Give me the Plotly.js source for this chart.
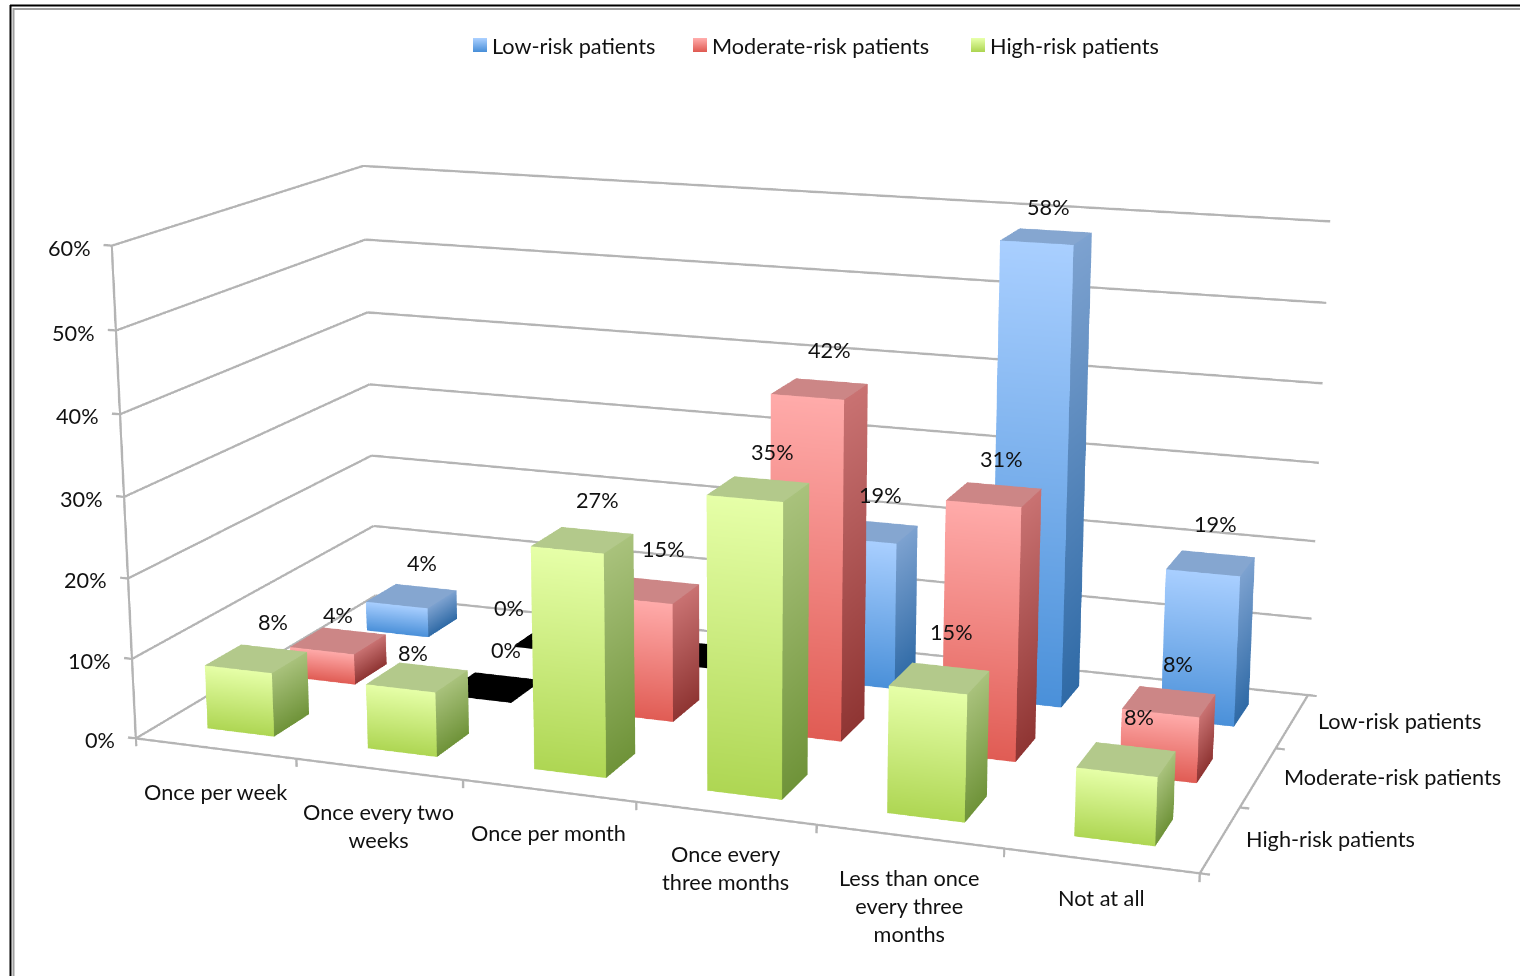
<!DOCTYPE html>
<html><head><meta charset="utf-8">
<script src="https://cdn.plot.ly/plotly-3.0.1.min.js"></script>
<style>html,body{margin:0;padding:0;background:#fff;overflow:hidden;width:1520px;height:976px}#c{position:absolute}</style>
</head><body><div id="c"></div>
<script>
const categories = ["Once per week","Once every two<br>weeks","Once per month","Once every<br>three months","Less than once<br>every three<br>months","Not at all"];
const seriesNames = ["High-risk patients","Moderate-risk patients","Low-risk patients"];
const highRisk = [8,8,27,35,15,8];
const moderateRisk = [4,0,15,42,31,8];
const lowRisk = [4,0,0,19,58,19];
const zTicks = [0,10,20,30,40,50,60];
const seriesValues = [highRisk,moderateRisk,lowRisk];
const palette = [
 ["#e6ffa8","#aed653","#a9c27c","#6f9339","#b3c98b"],
 ["#ffabaa","#e05c54","#c97272","#8f3533","#cc8686"],
 ["#a9cfff","#4a90d9","#7da2d0","#2f6aa6","#85a6d0"]
];
const barW=0.42, barD=0.42;
const xr=[-0.3,6.3], yr=[-0.3,3.3], zr=[-2,62];
const Fz=2.7, px=734, py=479;
const PW=Math.round(1520*Fz), PH=Math.round(976*Fz);
const LEFT=Math.round(px-PW/2), TOP=Math.round(py-PH/2);
const el0=document.getElementById('c');
el0.style.left=LEFT+'px';el0.style.top=TOP+'px';el0.style.width=PW+'px';el0.style.height=PH+'px';
const S={x:1.012/6,y:0.507/3,z:0.470/60};
const pxX=v=>(v-LEFT)/PW, pxY=v=>1-(v-TOP)/PH;

function box(j){
  const X=[],Y=[],Z=[],I=[],J=[],K=[],C=[];
  const quad=(pts,cols)=>{const b=X.length;pts.forEach((p,n)=>{X.push(p[0]);Y.push(p[1]);Z.push(p[2]);C.push(cols[n]);});I.push(b,b);J.push(b+1,b+2);K.push(b+2,b+3);};
  seriesValues[j].forEach((v,i)=>{
    const x0=i+0.5-barW/2,x1=i+0.5+barW/2,y0=j+0.5-barD/2,y1=j+0.5+barD/2;
    const h=v===0?0.25:v;
    const p=v===0?["#000","#000","#000","#000","#000"]:palette[j];
    quad([[x0,y0,0],[x1,y0,0],[x1,y0,h],[x0,y0,h]],[p[1],p[1],p[0],p[0]]);
    quad([[x1,y0,0],[x1,y1,0],[x1,y1,h],[x1,y0,h]],[p[3],p[3],p[2],p[2]]);
    quad([[x0,y0,h],[x1,y0,h],[x1,y1,h],[x0,y1,h]],[p[4],p[4],p[4],p[4]]);
  });
  return {type:'mesh3d',x:X,y:Y,z:Z,i:I,j:J,k:K,vertexcolor:C,flatshading:true,hoverinfo:'skip',
    lighting:{ambient:1,diffuse:0,specular:0,roughness:1,fresnel:0},name:seriesNames[j]};
}
function lines(){
  const x=[],y=[],z=[];
  const seg=(a,b)=>{x.push(a[0],b[0],null);y.push(a[1],b[1],null);z.push(a[2],b[2],null);};
  zTicks.forEach(t=>{seg([-0.05,0,t],[0,0,t]);seg([0,0,t],[0,3,t]);seg([0,3,t],[6,3,t]);});
  seg([0,0,0],[0,0,60]);seg([0,0,0],[6,0,0]);seg([6,0,0],[6,3,0]);
  categories.forEach((c,i)=>seg([i+1,0,0],[i+1,0,-1]));seg([0,0,0],[0,0,-1]);
  seriesNames.forEach((c,j)=>seg([6,j,0],[6.05,j,0]));seg([6,3,0],[6.05,3,0]);
  return {type:'scatter3d',mode:'lines',x,y,z,connectgaps:false,line:{color:'#b4b4b4',width:4},hoverinfo:'skip',showlegend:false};
}
const font={family:'Lato, Carlito, sans-serif',size:21.7,color:'#111'};
const sa=[];
const pct=v=>v+'%';
const catShift=[-28,-28,-27,-26,-26,-22];
const labelNudge=[
 [[17,-3],[-4,10],[15,-6],[14,-3],[12,-12],[13,-8]],
 [[0,8],[13,-4],[12,-8],[10,-5],[8,-2],[9,-4]],
 [[11,1],[-51,1],[0,0],[8,-2],[2,4],[5,-5]]
];
zTicks.forEach(t=>sa.push({x:0,y:0,z:t,text:pct(t),showarrow:false,xanchor:'right',xshift:-19,yshift:-2,font}));
categories.forEach((c,i)=>sa.push({x:i+0.5,y:0,z:0,text:c,showarrow:false,yanchor:'top',yshift:catShift[i],font}));
seriesNames.forEach((c,j)=>sa.push({x:6,y:j+0.5,z:0,text:c,showarrow:false,xanchor:'left',xshift:24,font}));
seriesValues.forEach((arr,j)=>arr.forEach((v,i)=>{
  if(j===2&&i===2)return;
  const n=labelNudge[j][i];
  sa.push({x:i+0.5,y:j+0.5,z:v,text:pct(v),showarrow:false,xshift:n[0],yshift:34-n[1],font});
}));
const shapes=[
 {type:'line',xref:'paper',yref:'paper',x0:pxX(10.5),x1:pxX(10.5),y0:pxY(976),y1:pxY(5),line:{color:'#000',width:2}},
 {type:'line',xref:'paper',yref:'paper',x0:pxX(10),x1:pxX(1520),y0:pxY(5.5),y1:pxY(5.5),line:{color:'#000',width:2}},
 {type:'line',xref:'paper',yref:'paper',x0:pxX(13.5),x1:pxX(13.5),y0:pxY(976),y1:pxY(8),line:{color:'#a0a0a0',width:2}},
 {type:'line',xref:'paper',yref:'paper',x0:pxX(13),x1:pxX(1520),y0:pxY(9),y1:pxY(9),line:{color:'#a0a0a0',width:2}}
];
const annotations=[];
const legendX=[473,693,971];
[2,1,0].forEach((j,n)=>{
  const lx=legendX[n];
  const c0=palette[j][0],c1=palette[j][1];
  const p=h=>[parseInt(h.slice(1,3),16),parseInt(h.slice(3,5),16),parseInt(h.slice(5,7),16)];
  const a=p(c0),b=p(c1);
  for(let s=0;s<14;s++){
    const t=s/13,col=`rgb(${a.map((u,q)=>Math.round(u+(b[q]-u)*t)).join(',')})`;
    shapes.push({type:'rect',xref:'paper',yref:'paper',x0:pxX(lx),x1:pxX(lx+14),y0:pxY(38+s),y1:pxY(39+s),fillcolor:col,line:{width:0}});
  }
  annotations.push({xref:'paper',yref:'paper',x:pxX(lx+17),y:pxY(46),xanchor:'left',yanchor:'middle',text:seriesNames[j],showarrow:false,font});
});
const az=20*Math.PI/180,el=14.3*Math.PI/180,E=3;
const layout={width:PW,height:PH,margin:{l:0,r:0,t:0,b:0},paper_bgcolor:'#fff',showlegend:false,shapes,annotations,
 scene:{domain:{x:[0,1],y:[0,1]},aspectmode:'manual',
  aspectratio:{x:(xr[1]-xr[0])*S.x,y:(yr[1]-yr[0])*S.y,z:(zr[1]-zr[0])*S.z},
  camera:{eye:{x:E*Math.sin(az)*Math.cos(el),y:-E*Math.cos(az)*Math.cos(el),z:E*Math.sin(el)},center:{x:0,y:0,z:0},up:{x:0,y:0,z:1},projection:{type:'perspective'}},
  xaxis:{visible:false,range:xr},yaxis:{visible:false,range:yr},zaxis:{visible:false,range:zr},
  annotations:sa}};
Plotly.newPlot('c',[box(2),box(1),box(0),lines()],layout,{displayModeBar:false});
</script></body></html>
